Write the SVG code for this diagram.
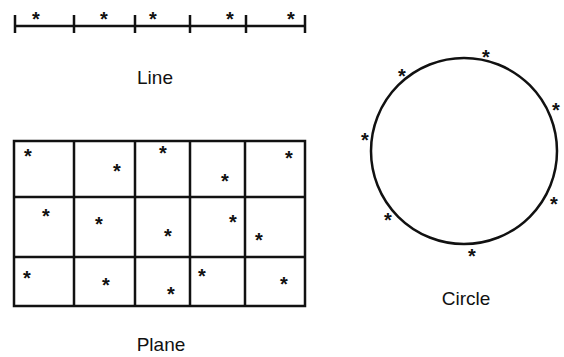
<svg xmlns="http://www.w3.org/2000/svg" width="564" height="357" viewBox="0 0 564 357">
<style>
.s{font-family:"Liberation Sans",Arial,sans-serif;font-size:20px;font-weight:bold;text-anchor:middle;fill:#111}
.lbl{font-family:"Liberation Sans",Arial,sans-serif;font-size:19px;text-anchor:middle;fill:#111}
.ln{stroke:#111;stroke-width:2.5;fill:none}
</style>
<rect width="564" height="357" fill="#fff"/>
<g id="line">
<path class="ln" d="M14 26H305M15 15V33M74 15V33M135 15V33M190 15V33M246 15V33M305 15V33"/>
<text class="s" x="36" y="26">*</text>
<text class="s" x="104" y="26">*</text>
<text class="s" x="153" y="26">*</text>
<text class="s" x="230" y="26">*</text>
<text class="s" x="291" y="26">*</text>
<text class="lbl" x="155" y="84">Line</text>
</g>
<g id="plane">
<path class="ln" d="M14 141H305V306H14ZM14 197H305M14 257H305M74 141V306M135 141V306M190 141V306M245 141V306"/>
<text class="s" x="28" y="163">*</text>
<text class="s" x="117" y="178">*</text>
<text class="s" x="163" y="160">*</text>
<text class="s" x="225" y="188">*</text>
<text class="s" x="289" y="165">*</text>
<text class="s" x="46" y="223">*</text>
<text class="s" x="99" y="231">*</text>
<text class="s" x="168" y="243">*</text>
<text class="s" x="233" y="229">*</text>
<text class="s" x="259" y="247">*</text>
<text class="s" x="27" y="285">*</text>
<text class="s" x="106" y="292">*</text>
<text class="s" x="171" y="301">*</text>
<text class="s" x="202" y="283">*</text>
<text class="s" x="284" y="291">*</text>
<text class="lbl" x="161" y="351">Plane</text>
</g>
<g id="circle">
<circle cx="464" cy="151" r="93" stroke="#111" stroke-width="2.5" fill="none"/>
<text class="s" x="486" y="64">*</text>
<text class="s" x="402" y="83">*</text>
<text class="s" x="556" y="117">*</text>
<text class="s" x="365" y="147">*</text>
<text class="s" x="554" y="211">*</text>
<text class="s" x="388" y="227">*</text>
<text class="s" x="472" y="263">*</text>
<text class="lbl" x="466" y="305">Circle</text>
</g>
</svg>
